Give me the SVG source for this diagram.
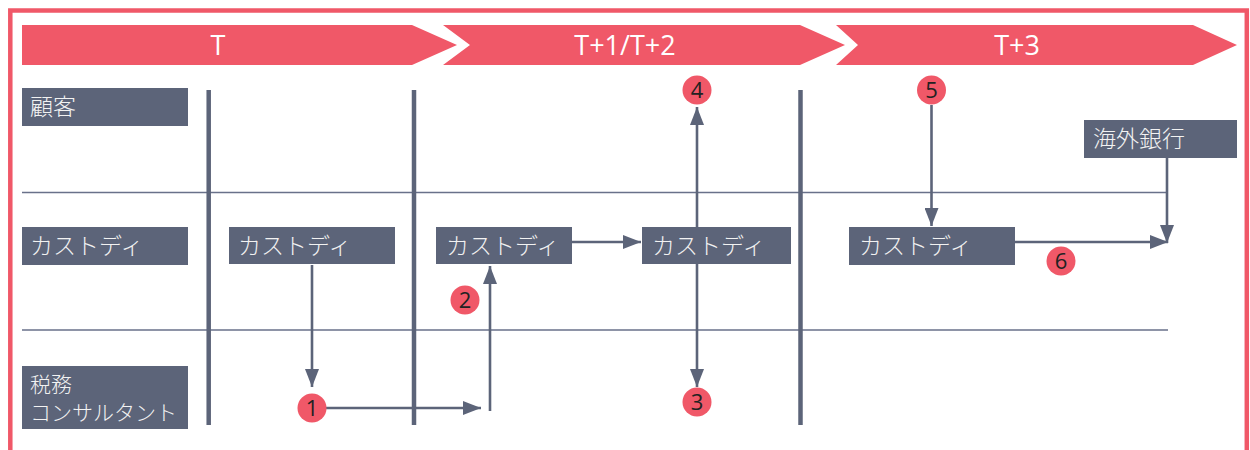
<svg xmlns="http://www.w3.org/2000/svg" width="1250" height="450" viewBox="0 0 1250 450">
<defs>
<style>
.frame{fill:none;stroke:#f05868;stroke-width:4.5}
.chev{fill:#f05868}
.chevtxt{font-family:"Open Sans","Noto Sans",sans-serif;font-size:27px;fill:#ffffff;text-anchor:middle}
.box{fill:#5c6479}
.lbl{font-family:"Noto Sans CJK JP","Noto Sans",sans-serif;font-size:23px;fill:#f2f2f2;font-weight:300}
.lbl2{font-family:"Noto Sans CJK JP","Noto Sans",sans-serif;font-size:21px;fill:#f2f2f2;font-weight:300}
.lane{stroke:#69718a;stroke-width:1.6;fill:none}
.sep{stroke:#5c6479;stroke-width:4.5;fill:none}
.conn{stroke:#5c6479;stroke-width:2.6;fill:none}
.num{fill:#f05868}
.numtxt{font-family:"Open Sans","Noto Sans",sans-serif;font-size:22px;fill:#222;text-anchor:middle}
</style>
<marker id="ah" viewBox="0 0 18 14" refX="18" refY="7" markerWidth="18" markerHeight="14" markerUnits="userSpaceOnUse" orient="auto">
<path d="M0,0 L18,7 L0,14 Z" fill="#5c6479"/>
</marker>
</defs>
<rect width="1250" height="450" fill="#ffffff"/>
<rect class="frame" x="10.3" y="10.5" width="1236.5" height="470"/>

<g id="timeline">
<g id="phase-t"><path class="chev" d="M22,25 H412 L457,45 L412,65 H22 Z"/><text class="chevtxt" x="218" y="55">T</text></g>
<g id="phase-t12"><path class="chev" d="M443,25 H800 L845,45 L800,65 H443 L470,45 Z"/><text class="chevtxt" x="625" y="55">T+1/T+2</text></g>
<g id="phase-t3"><path class="chev" d="M836,25 H1193 L1237,45 L1193,65 H836 L858,45 Z"/><text class="chevtxt" x="1017" y="55">T+3</text></g>
</g>

<g id="grid">
<line class="lane" x1="22" y1="192.5" x2="1168" y2="192.5"/>
<line class="lane" x1="22" y1="330" x2="1168" y2="330"/>
<line class="sep" x1="208.7" y1="90" x2="208.7" y2="425"/>
<line class="sep" x1="414" y1="90" x2="414" y2="425"/>
<line class="sep" x1="800.5" y1="90" x2="800.5" y2="425"/>
</g>

<g id="connectors">
<line class="conn" x1="312" y1="265" x2="312" y2="387" marker-end="url(#ah)"/>
<line class="conn" x1="326" y1="408" x2="481" y2="408" marker-end="url(#ah)"/>
<line class="conn" x1="490" y1="411" x2="490" y2="266" marker-end="url(#ah)"/>
<line class="conn" x1="572" y1="242" x2="641" y2="242" marker-end="url(#ah)"/>
<line class="conn" x1="697" y1="227" x2="697" y2="107" marker-end="url(#ah)"/>
<line class="conn" x1="697" y1="264" x2="697" y2="387" marker-end="url(#ah)"/>
<line class="conn" x1="931.5" y1="105" x2="931.5" y2="226" marker-end="url(#ah)"/>
<line class="conn" x1="1015" y1="242" x2="1168" y2="242" marker-end="url(#ah)"/>
<line class="conn" x1="1167" y1="158" x2="1167" y2="243" marker-end="url(#ah)"/>
</g>

<g id="lane-customer"><rect class="box" x="22" y="88" width="166" height="38"/><text class="lbl" x="30" y="115">顧客</text></g>
<g id="lane-custody"><rect class="box" x="22" y="227" width="166" height="38"/><text class="lbl" x="30" y="254">カストディ</text></g>
<g id="lane-tax"><rect class="box" x="22" y="366" width="166" height="63"/><text class="lbl2" x="30" y="392">税務</text><text class="lbl2" x="30" y="420">コンサルタント</text></g>

<g id="custody-t"><rect class="box" x="229" y="227" width="166" height="37"/><text class="lbl" x="238" y="254">カストディ</text></g>
<g id="custody-t1a"><rect class="box" x="436" y="227" width="136" height="37"/><text class="lbl" x="446" y="254">カストディ</text></g>
<g id="custody-t1b"><rect class="box" x="642" y="227" width="149" height="37"/><text class="lbl" x="652" y="254">カストディ</text></g>
<g id="custody-t3"><rect class="box" x="849" y="227" width="166" height="38"/><text class="lbl" x="859" y="254">カストディ</text></g>
<g id="overseas-bank"><rect class="box" x="1084" y="120" width="153" height="38"/><text class="lbl" x="1093" y="147">海外銀行</text></g>

<g id="step1"><circle class="num" cx="312" cy="408" r="14.5"/><text class="numtxt" x="312" y="416">1</text></g>
<g id="step2"><circle class="num" cx="465" cy="300" r="14.5"/><text class="numtxt" x="465" y="308">2</text></g>
<g id="step3"><circle class="num" cx="697" cy="402" r="14.5"/><text class="numtxt" x="697" y="410">3</text></g>
<g id="step4"><circle class="num" cx="697" cy="90" r="14.5"/><text class="numtxt" x="697" y="98">4</text></g>
<g id="step5"><circle class="num" cx="931.5" cy="90" r="14.5"/><text class="numtxt" x="931.5" y="98">5</text></g>
<g id="step6"><circle class="num" cx="1061" cy="261" r="14.5"/><text class="numtxt" x="1061" y="269">6</text></g>
</svg>
